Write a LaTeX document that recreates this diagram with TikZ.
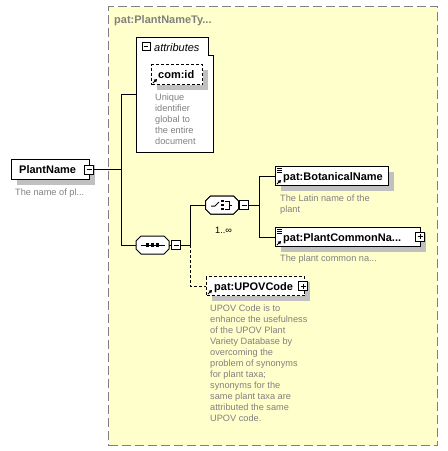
\documentclass[tikz,border=0pt]{standalone}
\usepackage{fontspec}
\setmainfont{Liberation Sans}
\usetikzlibrary{calc,shadows,arrows.meta}
\definecolor{bgyellow}{RGB}{255,255,204}
\definecolor{shade}{RGB}{192,192,192}
\definecolor{descgray}{RGB}{128,128,128}
\definecolor{framegray}{RGB}{128,128,128}
\newcommand\xsOct[2]{%
  \path[#2] ($(#1)+(-16.5,-4)$) -- ($(#1)+(-11.5,-9)$) -- ($(#1)+(11.5,-9)$) -- ($(#1)+(16.5,-4)$)
    -- ($(#1)+(16.5,4)$) -- ($(#1)+(11.5,9)$) -- ($(#1)+(-11.5,9)$) -- ($(#1)+(-16.5,4)$) -- cycle;}
\begin{document}
\begin{tikzpicture}[x=1pt,y=-1pt,
  lbl/.style={inner sep=0, anchor=west, text height=8pt, text depth=0pt, font=\fontsize{11}{13}\selectfont\bfseries},
  desc/.style={inner sep=0, anchor=north west, align=left, text=descgray, font=\fontsize{9.2}{11}\selectfont},
  shd/.style={drop shadow={shadow xshift=5pt, shadow yshift=-5pt, fill=shade, opacity=1}},
  ebox/.style={draw, fill=white, line width=1pt, inner sep=0, minimum height=19pt, anchor=north west, shd},
  optbox/.style={ebox, dash pattern=on 3pt off 2pt},
  conn/.style={line width=1pt},
  optconn/.style={line width=1pt, dash pattern=on 3pt off 2pt},
  mbox/.style={draw, fill=white, line width=1pt, minimum size=9pt, inner sep=0,
    path picture={\draw[line width=1pt] ($(path picture bounding box.west)+(2,0)$) -- ($(path picture bounding box.east)+(-2,0)$);}},
  pbox/.style={draw, fill=white, line width=1pt, minimum size=9pt, inner sep=0,
    path picture={\draw[line width=1pt] ($(path picture bounding box.west)+(2,0)$) -- ($(path picture bounding box.east)+(-2,0)$)
      ($(path picture bounding box.north)+(0,2)$) -- ($(path picture bounding box.south)+(0,-2)$);}},
  refarrow/.style={line width=1pt, -{Triangle[length=3pt,width=3.5pt]}},
  comp/.style={inner sep=0, minimum width=33pt, minimum height=18pt}
]
\useasboundingbox (0,0) rectangle (448,451);
% complex type frame
\node[draw=framegray, fill=bgyellow, line width=1pt, dash pattern=on 9pt off 4pt,
  minimum width=329pt, minimum height=439pt, anchor=north west, inner sep=0] (type) at (108,6) {};
\node[lbl, text=framegray] (typetitle) at (114,19) {pat:PlantNameTy...};

% attributes
\node[inner sep=0, minimum width=77pt, minimum height=115pt, anchor=north west] (attr) at (136,37) {};
\draw[fill=white, line width=1pt] (attr.north west) -- ($(attr.north east)+(-5,0)$) -- ($(attr.north east)+(-5,18)$)
  -- ($(attr.north east)+(0,18)$) -- (attr.south east) -- (attr.south west) -- cycle;
\node[mbox, minimum size=8pt] (attrm) at (146,46) {};
\node[lbl, font=\fontsize{11}{13}\selectfont\itshape] (attrlbl) at (154,47) {attributes};
\node[optbox, minimum width=51pt, minimum height=20pt] (comid) at (151,64) {};
\node[lbl] (comidlbl) at (158,74) {com:id};
\draw[refarrow] ($(comid.south west)+(2,-2)$) -- ++(4,-4);
\node[desc] (comiddesc) at (155,93.3) {\rule{0pt}{7pt}Unique\\identifier\\global to\\the entire\\document};

% PlantName
\node[ebox, minimum width=78pt, minimum height=20pt] (pn) at (11,159) {};
\node[lbl] (pnlbl) at (19,169.5) {PlantName};
\node[mbox] (pnm) at (89,169.5) {};
\node[desc] (pndesc) at (15,188.3) {\rule{0pt}{7pt}The name of pl...};

% sequence compositor
\node[comp] (seq) at (152.5,245) {};
\xsOct{seq}{fill=shade, shift={(5,5)}}
\xsOct{seq}{draw, fill=white, line width=1pt}
\draw[line width=1pt] ($(seq)+(-12,0)$) -- ($(seq)+(12,0)$);
\foreach \dx in {-5,0,5} \fill ($(seq)+(\dx-1.6,-1.6)$) rectangle ++(3.2,3.2);
\node[mbox] (seqm) at (176,245) {};
\draw[conn] (seq.east) -- (seqm.west);

% choice compositor
\node[comp] (choice) at (222,205) {};
\xsOct{choice}{fill=shade, shift={(6,7)}}
\xsOct{choice}{draw, fill=white, line width=1pt, shift={(2,3)}}
\xsOct{choice}{draw, fill=white, line width=1pt}
\draw[line width=1pt] ($(choice)+(-11,1)$) -- ($(choice)+(-7,1)$) -- ($(choice)+(-3,-3)$);
\foreach \dy in {-4,0,4} \fill ($(choice)+(-0.8,\dy-1.3)$) rectangle ++(2.8,2.6);
\draw[line width=1pt] ($(choice)+(3,-4)$) -- ($(choice)+(7,-4)$) -- ($(choice)+(7,4)$) -- ($(choice)+(3,4)$)
  ($(choice)+(7,0)$) -- ($(choice)+(10,0)$);
\node[mbox] (choicem) at (244,205) {};
\draw[conn] (choice.east) -- (choicem.west);
\node[inner sep=0, anchor=west, font=\fontsize{9.2}{11}\selectfont] (card) at (215,230) {1..∞};

% junctions
\coordinate (j1) at (121,169.5);
\coordinate (j2) at (190,245);
\coordinate (j3) at (259,205);

% BotanicalName
\node[ebox, minimum width=113pt] (bot) at (275,166) {};
\node[lbl] (botlbl) at (283,176) {pat:BotanicalName};
\draw[line width=0.8pt] ($(bot.north west)+(2,2)$) -- ++(5,0) ($(bot.north west)+(2,4)$) -- ++(5,0) ($(bot.north west)+(2,6)$) -- ++(5,0);
\draw[refarrow] ($(bot.south west)+(2,-2)$) -- ++(4,-4);
\node[desc] (botdesc) at (280,194.3) {\rule{0pt}{7pt}The Latin name of the\\plant};

% PlantCommonName
\node[ebox, minimum width=145pt] (common) at (275,227) {};
\node[lbl] (commonlbl) at (283,237) {pat:PlantCommonNa...};
\draw[line width=0.8pt] ($(common.north west)+(2,2)$) -- ++(5,0) ($(common.north west)+(2,4)$) -- ++(5,0) ($(common.north west)+(2,6)$) -- ++(5,0);
\draw[refarrow] ($(common.south west)+(2,-2)$) -- ++(4,-4);
\node[pbox] (commonp) at (420,236.5) {};
\node[desc] (commondesc) at (280,254.3) {\rule{0pt}{7pt}The plant common na...};

% UPOVCode
\node[optbox, minimum width=98pt] (upov) at (206,276) {};
\node[lbl] (upovlbl) at (214,286) {pat:UPOVCode};
\draw[refarrow] ($(upov.south west)+(2,-2)$) -- ++(4,-4);
\node[pbox] (upovp) at (303,286) {};
\node[desc] (upovdesc) at (210,304.3) {\rule{0pt}{7pt}UPOV Code is to\\enhance the usefulness\\of the UPOV Plant\\Variety Database by\\overcoming the\\problem of synonyms\\for plant taxa;\\synonyms for the\\same plant taxa are\\attributed the same\\UPOV code.};

% connectors
\draw[conn] (pnm.east) -- (j1);
\draw[conn] (attr.west) -| (j1);
\draw[conn] (j1) |- (seq.west);
\draw[conn] (seqm.east) -- (j2);
\draw[conn] (j2) |- (choice.west);
\draw[optconn] (j2) |- (upov.west);
\draw[conn] (choicem.east) -- (j3);
\draw[conn] (j3) |- (bot.west);
\draw[conn] (j3) |- (common.west);
\end{tikzpicture}
\end{document}
